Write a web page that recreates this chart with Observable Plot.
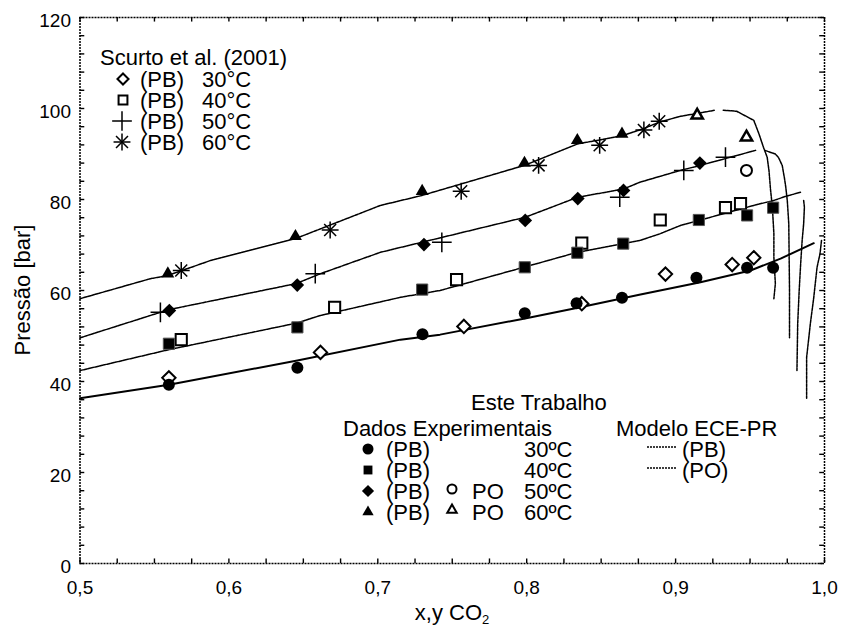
<!DOCTYPE html>
<html><head><meta charset="utf-8">
<script src="https://cdn.jsdelivr.net/npm/d3@7"></script>
<script src="https://cdn.jsdelivr.net/npm/@observablehq/plot@0.6"></script>
<style>
body{margin:0;background:#fff;font-family:"Liberation Sans",Arial,sans-serif;}
#wrap{position:relative;width:841px;height:626px;overflow:hidden;}
#wrap svg.plot{position:absolute;left:0;top:0;}
.t{position:absolute;font-size:22px;color:#000;white-space:nowrap;line-height:19px;transform:translateY(-50%);}
.col{position:absolute;font-size:22px;color:#000;white-space:nowrap;line-height:21px;}
.sym{position:absolute;overflow:visible;}
</style></head><body><div id="wrap"></div>
<script>
// ---------- data (x = CO2 mole fraction, P = bar) ----------
// Este Trabalho, experimental (PB = bubble point, PO = dew point)
const pb30 = [[0.5597,39.3],[0.646,43.0],[0.73,50.4],[0.7987,55.0],[0.8335,57.2],[0.864,58.4],[0.914,62.8],[0.948,65.0],[0.9655,65.0]];
const pb40 = [[0.5597,48.3],[0.646,51.9],[0.7298,60.2],[0.7987,65.1],[0.834,68.3],[0.8648,70.3],[0.9156,75.5],[0.948,76.5],[0.9655,78.2]];
const pb50 = [[0.560,55.6],[0.6459,61.2],[0.731,70.1],[0.799,75.4],[0.8343,80.2],[0.865,82.0],[0.9163,88.0]];
const pb60 = [[0.559,63.7],[0.6447,71.9],[0.7298,81.8],[0.7985,88.0],[0.834,93.0],[0.864,94.4]];
const po50 = [[0.9476,86.4]];
const po60 = [[0.9145,98.5],[0.9476,93.7]];
// Scurto et al. (2001)
const sc30 = [[0.5597,40.8],[0.6615,46.4],[0.7578,52.1],[0.837,57.1],[0.8932,63.6],[0.938,65.7],[0.9525,67.2]];
const sc40 = [[0.568,49.2],[0.671,56.3],[0.7529,62.4],[0.837,70.4],[0.8897,75.5],[0.9335,78.2],[0.9436,79.1]];
const sc50 = [[0.554,55.2],[0.658,63.7],[0.743,70.6],[0.8625,80.5],[0.9055,86.4],[0.9335,89.3]];
const sc60 = [[0.568,64.4],[0.668,73.3],[0.756,81.8],[0.808,87.5],[0.849,91.9],[0.8787,95.3],[0.889,97.2]];
// Modelo ECE-PR curves
const bub30 = [[0.5,36.3],[0.5597,39.3],[0.646,44.6],[0.7152,49.2],[0.7418,50.3],[0.798,53.8],[0.836,56.3],[0.8764,59.1],[0.9167,61.8],[0.9503,64.4],[0.9705,67.0],[0.9928,70.4]];
const dew30 = [[0.998,71.0],[0.997,68.1],[0.995,65.1],[0.9928,58.5],[0.9905,52.7],[0.988,45.3],[0.988,36.3]];
const bub40 = [[0.5,42.4],[0.5597,47.0],[0.645,52.8],[0.6614,54.5],[0.7152,58.5],[0.7418,60.0],[0.798,65.1],[0.834,68.4],[0.876,71.0],[0.8898,72.5],[0.9033,74.3],[0.9525,78.7],[0.966,79.8],[0.974,80.7],[0.984,81.6]];
const dew40 = [[0.986,79.8],[0.9865,78.3],[0.986,74.7],[0.985,71.0],[0.984,65.9],[0.983,60.0],[0.982,52.7],[0.9815,42.4]];
const bub50 = [[0.5,49.6],[0.5597,55.8],[0.645,61.5],[0.6615,63.7],[0.7018,68.4],[0.799,76.1],[0.8343,80.5],[0.865,82.3],[0.876,83.8],[0.9033,86.4],[0.9166,87.5],[0.9537,90.8]];
const dew50 = [[0.960,90.8],[0.967,90.0],[0.969,89.3],[0.9716,87.5],[0.973,84.9],[0.974,82.7],[0.975,79.8],[0.976,74.7],[0.9765,60.0],[0.9765,49.6]];
const bub60 = [[0.5,58.2],[0.5473,62.6],[0.559,63.3],[0.5877,66.6],[0.6447,71.4],[0.7018,78.7],[0.7298,80.9],[0.7985,87.5],[0.834,92.2],[0.864,94.0],[0.8787,95.6],[0.889,97.0],[0.9033,98.3],[0.9145,98.9],[0.926,99.6]];
const dew60 = [[0.932,99.6],[0.941,99.4],[0.9525,97.4],[0.956,94.4],[0.959,91.5],[0.9615,89.3],[0.9627,86.4],[0.9638,82.0],[0.965,78.3],[0.966,72.5],[0.966,67.3],[0.967,61.5],[0.966,58.2]];
// axes
const xTicks = [0.5,0.6,0.7,0.8,0.9,1.0];
const yTicks = [0,20,40,60,80,100,120];
const xMinor = d3.range(0,21).map(i => 0.5 + i*0.025);
const yMinor = d3.range(0,31).map(i => i*4);
const xEdges = [0.5,1.0];
const yEdges = [0,120];
const temps = ["30","40","50","60"];
const fmt = d => d3.format(".1f")(d).replace(".", ",");

const W = 841, H = 626, ML = 79.5, MR = 17, MT = 17, MB = 63;
const TX = 0.0032, TY = 1.0;   // inward tick length in data units (~5 px)
const dashed = {stroke:"black", strokeWidth:1.5, strokeDasharray:"3,1"};
const solid = {stroke:"black", strokeWidth:2};
const open = {fill:"white", stroke:"black", strokeWidth:2};
const edge = {stroke:"black", strokeWidth:1.5, strokeDasharray:"2,1"};
const tk = {stroke:"black", strokeWidth:1.4};

const plot = Plot.plot({
  width:W, height:H,
  marginLeft:ML, marginRight:MR, marginTop:MT, marginBottom:MB,
  style:{fontFamily:'"Liberation Sans",Arial,sans-serif', fontSize:"19px", color:"black", background:"white"},
  x:{domain:[0.5,1.0]},
  y:{domain:[0,120]},
  marks:[
    Plot.line(bub60, dashed), Plot.line(dew60, dashed),
    Plot.line(bub50, dashed), Plot.line(dew50, dashed),
    Plot.line(bub40, dashed), Plot.line(dew40, dashed),
    Plot.line(bub30, solid),  Plot.line(dew30, dashed),
    Plot.dot(sc30, {symbol:"diamond2", r:6, ...open}),
    Plot.dot(sc40, {symbol:"square", r:6.3, ...open}),
    Plot.dot(sc50, {symbol:"plus", r:6.4, stroke:"black", strokeWidth:1.5}),
    Plot.dot(sc60, {symbol:"plus", r:5.5, stroke:"black", strokeWidth:1.5}),
    Plot.dot(sc60, {symbol:"times", r:5.5, stroke:"black", strokeWidth:1.5}),
    Plot.dot(pb30, {symbol:"circle", r:6, fill:"black"}),
    Plot.dot(pb40, {symbol:"square", r:6.3, fill:"black", stroke:"#555", strokeWidth:1}),
    Plot.dot(pb50, {symbol:"diamond2", r:6.2, fill:"black"}),
    Plot.dot(pb60, {symbol:"triangle", r:4.8, fill:"black"}),
    Plot.dot(po50, {symbol:"circle", r:5.5, ...open}),
    Plot.dot(po60, {symbol:"triangle", r:4.2, fill:"white", stroke:"black", strokeWidth:2.5}),
    // ticks pointing inward on all four sides
    Plot.ruleX(xMinor, {x:d=>d, y1:()=>0, y2:()=>TY, ...tk}),
    Plot.ruleX(xMinor, {x:d=>d, y1:()=>120, y2:()=>120-TY, ...tk}),
    Plot.ruleY(yMinor, {y:d=>d, x1:()=>0.5, x2:()=>0.5+TX, ...tk}),
    Plot.ruleY(yMinor, {y:d=>d, x1:()=>1.0, x2:()=>1.0-TX, ...tk}),
    Plot.ruleX(xEdges, edge),
    Plot.ruleY(yEdges, edge),
    Plot.axisX(xTicks, {anchor:"bottom", tickSize:0, tickPadding:17, tickFormat:fmt, label:null}),
    Plot.axisY(yTicks, {anchor:"left", tickSize:0, tickPadding:9, dy:3, tickFormat:d=>String(d), label:null})
  ]
});
plot.classList.add("plot");
const wrap = document.getElementById("wrap");
wrap.appendChild(plot);

// ---------- overlay text / legends ----------
function text(str, left, cy, extra){
  const d = document.createElement("div");
  d.className = "t"; d.innerHTML = str;
  d.style.left = left + "px"; d.style.top = cy + "px";
  if (extra) Object.assign(d.style, extra);
  wrap.appendChild(d); return d;
}
// a column of legend lines in one block (first line centred at cy, 21 px apart)
function column(lines, left, cy){
  const d = document.createElement("div");
  d.className = "col"; d.innerHTML = lines.join("<br>");
  d.style.left = left + "px"; d.style.top = (cy - 10.5) + "px";
  wrap.appendChild(d); return d;
}
const symMap = {circle:d3.symbolCircle, square:d3.symbolSquare, diamond2:d3.symbolDiamond2, triangle:d3.symbolTriangle, plus:d3.symbolPlus, times:d3.symbolTimes};
function sym(names, cx, cy, r, attrs){
  const s = d3.create("svg").attr("class","sym").attr("width",30).attr("height",30)
    .style("left",(cx-15)+"px").style("top",(cy-15)+"px");
  for (const n of names){
    const p = s.append("path").attr("transform","translate(15,15)")
      .attr("d", d3.symbol(symMap[n], Math.PI*r*r)());
    for (const k in attrs) p.attr(k, attrs[k]);
  }
  wrap.appendChild(s.node());
}
const openA = {fill:"white", stroke:"black", "stroke-width":2};
const strokeA = {fill:"none", stroke:"black", "stroke-width":1.5};

// Scurto legend
text("Scurto et al. (2001)", 100, 57);
const R1 = 79;
sym(["diamond2"],123,R1,5,openA);
sym(["square"],123,R1+21,5,openA);
sym(["plus"],122,R1+42,6.4,strokeA);
sym(["plus","times"],122,R1+63,5.5,strokeA);
column(temps.map(()=>"(PB)"),140,R1);
column(temps.map(t=>t+"°C"),202,R1);

// Este Trabalho legend
text("Este Trabalho",471,402);
text("Dados Experimentais",343,428);
text("Modelo ECE-PR",616,428);
const R2 = 449;
sym(["circle"],368,R2,5.5,{fill:"black"});
sym(["square"],368,R2+21,5,{fill:"black"});
sym(["diamond2"],368,R2+42,5.5,{fill:"black"});
sym(["triangle"],368,R2+63,4.2,{fill:"black"});
sym(["circle"],452,R2+40,4.5,{fill:"white",stroke:"black","stroke-width":2});
sym(["triangle"],452,R2+61,3.5,{fill:"white",stroke:"black","stroke-width":2});
column(temps.map(()=>"(PB)"),386,R2);
column(["PO","PO"],472,R2+42);
column(temps.map(t=>t+"ºC"),524,R2);
[0,1].forEach(i=>{
  const l = d3.create("svg").attr("class","sym").attr("width",32).attr("height",4)
    .style("left","647px").style("top",(R2+i*21-4)+"px");
  l.append("line").attr("x1",0).attr("x2",30).attr("y1",2).attr("y2",2)
    .attr("stroke","black").attr("stroke-width",1.5).attr("stroke-dasharray","2,1");
  wrap.appendChild(l.node());
});
column(["(PB)","(PO)"],682,R2);

// axis titles
text("x,y CO<sub style='font-size:13px;vertical-align:-4px;line-height:0'>2</sub>",452,612,{transform:"translate(-50%,-50%)"});
text("Pressão [bar]",22,290,{transform:"translate(-50%,-50%) rotate(-90deg)"});
</script></body></html>
